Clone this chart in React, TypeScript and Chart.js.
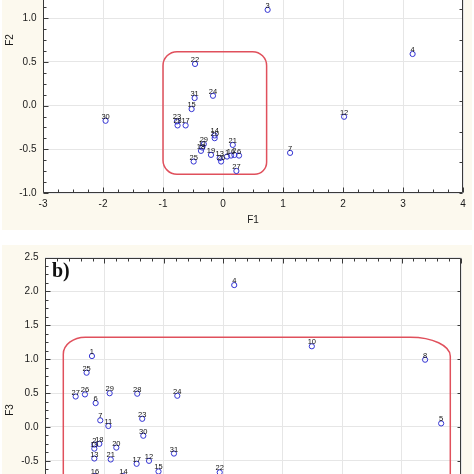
import React, { useEffect, useRef } from "react";
import { Chart, registerables } from "chart.js";

Chart.register(...registerables);

// ---------- Panel a) : F1 (x) vs F2 (y) ----------
const labelsA = ["3", "4", "7", "12", "30", "22", "31", "24", "15", "23", "28", "17", "14", "20", "21", "29", "11", "18", "19", "13", "26", "1", "16", "2", "6", "25", "27"];
const f1A = [0.744, 3.16, 1.118, 2.018, -1.957, -0.466, -0.473, -0.167, -0.523, -0.767, -0.757, -0.623, -0.139, -0.139, 0.163, -0.32, -0.345, -0.367, -0.2, -0.055, -0.032, 0.067, 0.134, 0.19, 0.267, -0.489, 0.223];
const f2A = [1.095, 0.59, -0.541, -0.128, -0.174, 0.476, 0.086, 0.112, -0.04, -0.181, -0.227, -0.227, -0.342, -0.373, -0.45, -0.441, -0.48, -0.518, -0.564, -0.602, -0.64, -0.583, -0.572, -0.565, -0.572, -0.64, -0.748];
const xRangeA = [-3, 4, 1];
const yRangeA = [-1, 2.5, 0.5];
const regionA = [-1.0, 0.727, 0.617, -0.785]; // F1 left, F1 right, F2 top, F2 bottom

// ---------- Panel b) : F2 (x) vs F3 (y) ----------
const labelsB = ["4", "10", "8", "5", "1", "25", "27", "26", "6", "29", "28", "24", "7", "11", "23", "30", "2", "18", "19", "20", "13", "21", "17", "12", "31", "15", "16", "14", "22"];
const f2B = [0.592, 1.245, 2.198, 2.333, -0.605, -0.65, -0.742, -0.664, -0.574, -0.456, -0.224, 0.113, -0.535, -0.467, -0.182, -0.173, -0.585, -0.543, -0.585, -0.4, -0.585, -0.447, -0.229, -0.125, 0.085, -0.045, -0.58, -0.34, 0.47];
const f3B = [2.093, 1.19, 0.992, 0.052, 1.046, 0.8, 0.449, 0.48, 0.352, 0.497, 0.49, 0.46, 0.097, 0.014, 0.12, -0.13, -0.26, -0.25, -0.32, -0.305, -0.466, -0.48, -0.544, -0.5, -0.393, -0.657, -0.725, -0.725, -0.67];
const xRangeB = [-1, 2.5, 0.5];
const yRangeB = [-2, 2.5, 0.5];
const regionB = [-0.846, 2.41, 1.325, -1.3]; // F2 left, F2 right, F3 top, F3 bottom

const FONT = "'Liberation Sans', Arial, sans-serif";
const CREAM = "#fcf9ee";
const MARKER = "#3434d4";
const REGION = "#e0505c";

type Side = { step: number; major?: number; start?: number };
type PanelSpec = {
  labels: string[];
  xs: number[];
  ys: number[];
  xRange: number[];
  yRange: number[];
  xTitle: string;
  yTitle: string;
  xDecimals: number;
  region: number[];
  radii: number[][]; // tl, tr, br, bl  [rx, ry]
  sides: { top: Side; bottom: Side; left: Side; right: Side };
  tag?: string;
  pageTop: number;
  height: number;
  pad: { top: number; right: number };
  yWidth: number;
  xHeight: number;
  xTitlePad: number;
};

function makePlugin(spec: PanelSpec) {
  return {
    id: "panelDeco",
    beforeDraw(chart: any) {
      const { ctx, width, height, chartArea: a } = chart;
      ctx.save();
      ctx.fillStyle = CREAM;
      ctx.fillRect(2, 0, width - 4, height);
      ctx.fillStyle = "#ffffff";
      ctx.fillRect(a.left, a.top, a.right - a.left, a.bottom - a.top);
      ctx.restore();
    },
    beforeDatasetsDraw(chart: any) {
      const { ctx, chartArea: a, scales } = chart;
      const sx = scales.x;
      const sy = scales.y;
      const [l, r, t, b] = spec.region;
      const x0 = sx.getPixelForValue(l);
      const x1 = sx.getPixelForValue(r);
      const y0 = sy.getPixelForValue(t);
      const y1 = sy.getPixelForValue(b);
      const [tl, tr, br, bl] = spec.radii;
      ctx.save();
      ctx.beginPath();
      ctx.rect(a.left, a.top, a.right - a.left, a.bottom - a.top);
      ctx.clip();
      ctx.beginPath();
      ctx.moveTo(x0 + tl[0], y0);
      ctx.lineTo(x1 - tr[0], y0);
      ctx.ellipse(x1 - tr[0], y0 + tr[1], tr[0], tr[1], 0, -Math.PI / 2, 0);
      ctx.lineTo(x1, y1 - br[1]);
      ctx.ellipse(x1 - br[0], y1 - br[1], br[0], br[1], 0, 0, Math.PI / 2);
      ctx.lineTo(x0 + bl[0], y1);
      ctx.ellipse(x0 + bl[0], y1 - bl[1], bl[0], bl[1], 0, Math.PI / 2, Math.PI);
      ctx.lineTo(x0, y0 + tl[1]);
      ctx.ellipse(x0 + tl[0], y0 + tl[1], tl[0], tl[1], 0, Math.PI, Math.PI * 1.5);
      ctx.closePath();
      ctx.strokeStyle = REGION;
      ctx.lineWidth = 1.5;
      ctx.stroke();
      ctx.restore();
    },
    afterDatasetsDraw(chart: any) {
      const { ctx } = chart;
      const meta = chart.getDatasetMeta(0);
      ctx.save();
      ctx.font = `7.5px ${FONT}`;
      ctx.fillStyle = "#111";
      ctx.textAlign = "center";
      ctx.textBaseline = "alphabetic";
      meta.data.forEach((el: any, i: number) => {
        ctx.fillText(spec.labels[i], el.x, el.y - 2);
      });
      ctx.restore();
    },
    afterDraw(chart: any) {
      const { ctx, chartArea: a, scales } = chart;
      ctx.save();
      ctx.strokeStyle = "#3a3a3a";
      ctx.lineWidth = 1;
      const L = Math.round(a.left) + 0.5;
      const R = Math.round(a.right) - 0.5;
      const T = Math.round(a.top) + 0.5;
      const B = Math.round(a.bottom) - 0.5;
      ctx.beginPath();
      ctx.moveTo(L, T);
      ctx.lineTo(R, T);
      ctx.lineTo(R, B);
      ctx.lineTo(L, B);
      ctx.closePath();
      ctx.stroke();
      ctx.beginPath();
      (["top", "bottom", "left", "right"] as const).forEach((side) => {
        const s = spec.sides[side];
        const horizontal = side === "top" || side === "bottom";
        const scale = horizontal ? scales.x : scales.y;
        const start = s.start ?? scale.min;
        const n = Math.round((scale.max - start) / s.step);
        for (let k = 0; k <= n; k++) {
          const v = start + k * s.step;
          const isMajor = s.major ? Math.abs(v / s.major - Math.round(v / s.major)) < 1e-6 : false;
          const len = isMajor ? 5 : 3;
          const p = Math.round(scale.getPixelForValue(v)) + 0.5;
          if (horizontal) {
            const y = side === "bottom" ? B : T;
            ctx.moveTo(p, y);
            ctx.lineTo(p, side === "bottom" ? y - len : y + len);
          } else {
            const x = side === "left" ? L : R;
            ctx.moveTo(x, p);
            ctx.lineTo(side === "left" ? x + len : x - len, p);
          }
        }
      });
      ctx.stroke();
      if (spec.tag) {
        ctx.font = `bold 20px 'Liberation Serif', 'Times New Roman', serif`;
        ctx.fillStyle = "#111";
        ctx.textAlign = "left";
        ctx.textBaseline = "alphabetic";
        ctx.fillText(spec.tag, a.left + 7, a.top + 19);
      }
      ctx.restore();
    },
  };
}

function Panel({ spec }: { spec: PanelSpec }) {
  const ref = useRef<HTMLCanvasElement | null>(null);
  useEffect(() => {
    if (!ref.current) return;
    const [xmin, xmax, xstep] = spec.xRange;
    const [ymin, ymax, ystep] = spec.yRange;
    const chart = new Chart(ref.current, {
      type: "scatter",
      data: {
        datasets: [
          {
            data: spec.xs.map((x, i) => ({ x, y: spec.ys[i] })),
            pointStyle: "circle",
            pointRadius: 2.6,
            pointHoverRadius: 2.6,
            borderWidth: 1,
            borderColor: MARKER,
            backgroundColor: "rgba(0,0,0,0)",
          },
        ],
      },
      options: {
        animation: false,
        responsive: false,
        devicePixelRatio: 1,
        layout: { padding: { top: spec.pad.top, right: spec.pad.right, left: 0, bottom: 0 } },
        plugins: { legend: { display: false }, tooltip: { enabled: false } },
        scales: {
          x: {
            type: "linear",
            min: xmin,
            max: xmax,
            afterFit: (s: any) => {
              s.height = spec.xHeight;
            },
            ticks: {
              stepSize: xstep,
              padding: 5,
              color: "#1a1a1a",
              font: { family: FONT, size: 10 },
              callback: (v: any) => Number(v).toFixed(spec.xDecimals),
            },
            grid: { color: "#e6e6e6", lineWidth: 1, drawTicks: false },
            border: { display: false },
            title: {
              display: true,
              text: spec.xTitle,
              color: "#1a1a1a",
              font: { family: FONT, size: 10 },
              padding: { top: 0, bottom: spec.xTitlePad },
            },
          },
          y: {
            type: "linear",
            min: ymin,
            max: ymax,
            afterFit: (s: any) => {
              s.width = spec.yWidth;
            },
            ticks: {
              stepSize: ystep,
              padding: 6.5,
              color: "#1a1a1a",
              font: { family: FONT, size: 10 },
              callback: (v: any) => Number(v).toFixed(1),
            },
            grid: { color: "#e6e6e6", lineWidth: 1, drawTicks: false },
            border: { display: false },
            title: {
              display: true,
              text: spec.yTitle,
              color: "#1a1a1a",
              font: { family: FONT, size: 10 },
              padding: { top: 4, bottom: 0 },
            },
          },
        },
      },
      plugins: [makePlugin(spec) as any],
    });
    return () => chart.destroy();
  }, [spec]);
  return (
    <canvas
      ref={ref}
      width={474}
      height={spec.height}
      style={{ position: "absolute", left: 0, top: spec.pageTop, width: 474, height: spec.height, display: "block" }}
    />
  );
}

const specA: PanelSpec = {
  labels: labelsA,
  xs: f1A,
  ys: f2A,
  xRange: xRangeA,
  yRange: yRangeA,
  xTitle: "F1",
  yTitle: "F2",
  xDecimals: 0,
  region: regionA,
  radii: [[14, 14], [14, 14], [12, 12], [14, 14]],
  sides: {
    top: { step: 0.25, major: 1 },
    bottom: { step: 0.25, major: 1 },
    left: { step: 0.125, major: 0.5 },
    right: { step: 0.35, start: -1 },
  },
  pageTop: -130,
  height: 360,
  pad: { top: 17, right: 11 },
  yWidth: 43,
  xHeight: 37,
  xTitlePad: 4,
};

const specB: PanelSpec = {
  labels: labelsB,
  xs: f2B,
  ys: f3B,
  xRange: xRangeB,
  yRange: yRangeB,
  xTitle: "F2",
  yTitle: "F3",
  xDecimals: 1,
  region: regionB,
  radii: [[22, 17], [40, 19], [16, 16], [16, 16]],
  sides: {
    top: { step: 0.1, major: 0.5 },
    bottom: { step: 0.1, major: 0.5 },
    left: { step: 0.125, major: 0.5 },
    right: { step: 0.5 },
  },
  tag: "b)",
  pageTop: 245,
  height: 360,
  pad: { top: 11, right: 13 },
  yWidth: 45,
  xHeight: 42.5,
  xTitlePad: 4,
};

export default function App() {
  return (
    <div
      style={{
        position: "fixed",
        left: 0,
        top: 0,
        width: 474,
        height: 474,
        overflow: "hidden",
        background: "#ffffff",
      }}
    >
      <Panel spec={specA} />
      <Panel spec={specB} />
    </div>
  );
}
